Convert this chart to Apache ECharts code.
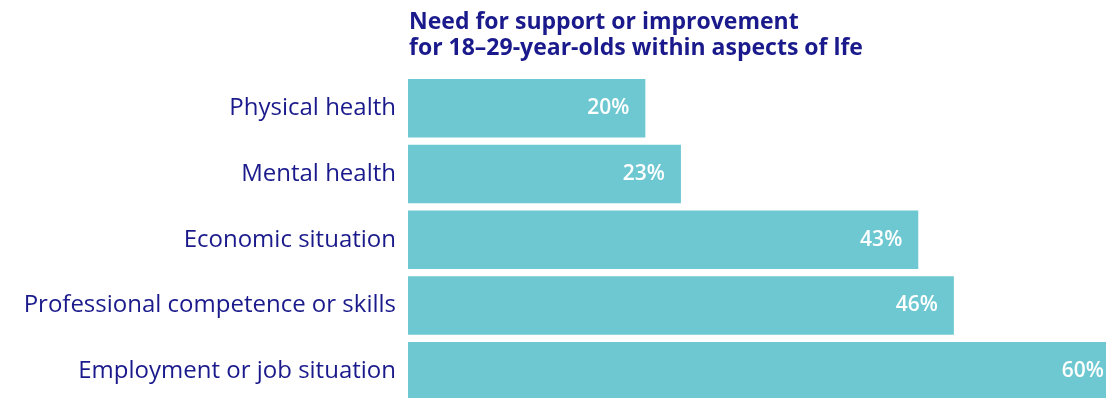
<!DOCTYPE html>
<html>
<head>
<meta charset="utf-8">
<script src="https://cdn.jsdelivr.net/npm/echarts@6/dist/echarts.min.js"></script>
<style>
  html, body { margin: 0; padding: 0; background: #fff; overflow: hidden; }
  /* the canvas runs a little past the page so the longest bar and last row bleed off the edges */
  #chart { width: 1120px; height: 404px; }
</style>
</head>
<body>
<div id="chart"></div>
<script>
// Share of 18–29-year-olds reporting a need for support, by aspect of life
const categories = [
  'Physical health',
  'Mental health',
  'Economic situation',
  'Professional competence or skills',
  'Employment or job situation'
];
const shares = [20, 23, 43, 46, 60];

const navy = '#1a1a8c';
const teal = '#6ec8d1';
const font = '"Open Sans", Lato, sans-serif';

const chart = echarts.init(document.getElementById('chart'));
chart.setOption({
  animation: false,
  title: {
    text: 'Need for support or improvement\nfor 18–29-year-olds within aspects of lfe',
    left: 404,
    top: 4,
    textStyle: {
      color: navy,
      fontFamily: font,
      fontWeight: 'bold',
      fontSize: 23,
      lineHeight: 26
    }
  },
  grid: { left: 408, right: 0, top: 75.5, bottom: 0, containLabel: false },
  xAxis: {
    type: 'value',
    min: 0,
    max: 60,
    show: false
  },
  yAxis: {
    type: 'category',
    inverse: true,
    data: categories,
    axisLine: { show: false },
    axisTick: { show: false },
    splitLine: { show: false },
    axisLabel: {
      margin: 12,
      color: navy,
      fontFamily: font,
      fontSize: 24
    }
  },
  series: [{
    type: 'bar',
    data: shares,
    barCategoryGap: '11%',
    itemStyle: { color: teal },
    label: {
      show: true,
      position: 'insideRight',
      distance: 16,
      color: '#ffffff',
      fontFamily: font,
      fontSize: 21,
      fontWeight: 600,
      formatter: p => p.value + '%'
    }
  }]
});
</script>
</body>
</html>
